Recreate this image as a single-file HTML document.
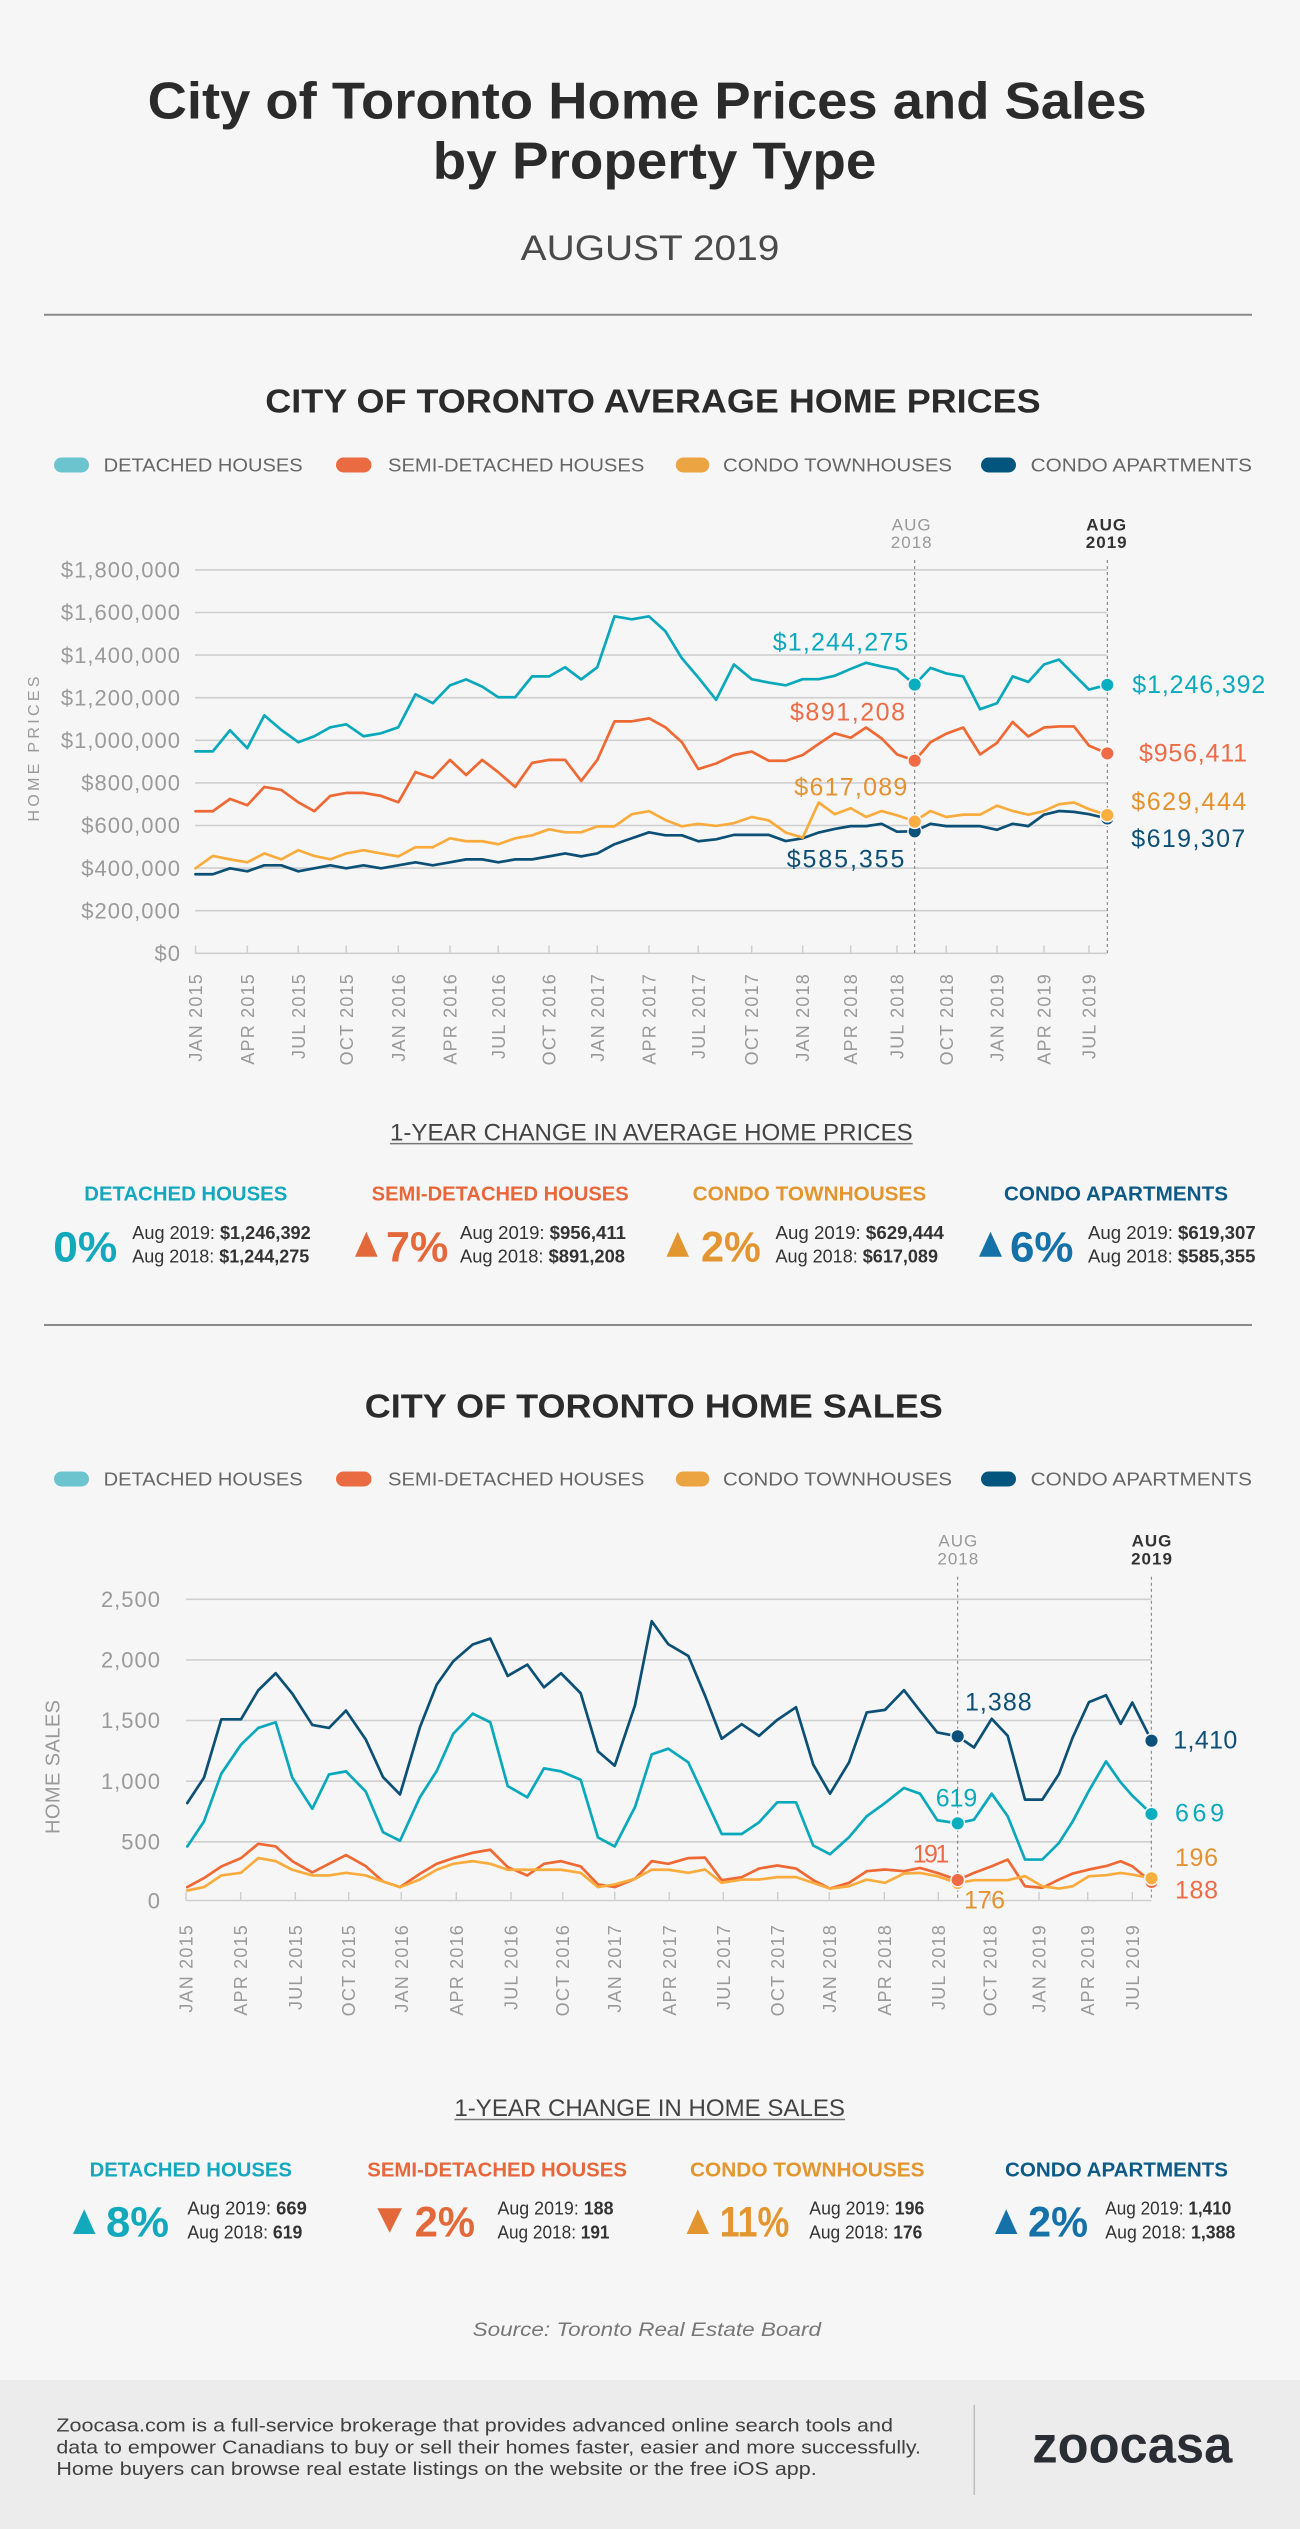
<!DOCTYPE html>
<html><head><meta charset="utf-8"><title>City of Toronto Home Prices and Sales by Property Type</title>
<style>
html,body{margin:0;padding:0;background:#f6f6f6;}
svg{display:block;font-family:"Liberation Sans",Arial,sans-serif;}
.yl{font-size:22px;fill:#9a9a9a;text-anchor:end;letter-spacing:1px;}
.xl{font-size:18px;fill:#999;text-anchor:end;letter-spacing:1.2px;}
.leg{font-size:18px;fill:#666;}
.cat{font-size:20px;font-weight:bold;}
.pct{font-size:43px;font-weight:bold;}
.det{font-size:18px;fill:#333;}
.val{font-size:25px;}
.ln{fill:none;stroke-width:2.7;stroke-linejoin:round;stroke-linecap:round;}
</style></head>
<body>
<svg width="1300" height="2529" viewBox="0 0 1300 2529" xmlns="http://www.w3.org/2000/svg">
<rect x="0" y="0" width="1300" height="2529" fill="#f6f6f6"/>

<!-- HEADER -->
<text x="147.6" y="118.3" font-size="52" font-weight="bold" fill="#2b2b2b" textLength="999" lengthAdjust="spacingAndGlyphs">City of Toronto Home Prices and Sales</text>
<text x="432.8" y="178.3" font-size="52" font-weight="bold" fill="#2b2b2b" textLength="443.6" lengthAdjust="spacingAndGlyphs">by Property Type</text>
<text x="520.7" y="260" font-size="35" fill="#4a4a4a" textLength="258.7" lengthAdjust="spacingAndGlyphs">AUGUST 2019</text>
<line x1="44" y1="314.7" x2="1252" y2="314.7" stroke="#8a8a8a" stroke-width="2"/>

<!-- CHART 1 TITLE -->
<text x="265.3" y="412.3" font-size="33" font-weight="bold" fill="#2b2b2b" textLength="775.3" lengthAdjust="spacingAndGlyphs">CITY OF TORONTO AVERAGE HOME PRICES</text>

<!-- LEGEND 1 -->
<g>
<rect x="54" y="457.5" width="35" height="15" rx="7.5" fill="#6cc4cf"/>
<text class="leg" x="103.6" y="471.7" textLength="199" lengthAdjust="spacingAndGlyphs">DETACHED HOUSES</text>
<rect x="336" y="457.5" width="35.5" height="15" rx="7.5" fill="#ea6a42"/>
<text class="leg" x="388" y="471.7" textLength="256.3" lengthAdjust="spacingAndGlyphs">SEMI-DETACHED HOUSES</text>
<rect x="675.8" y="457.5" width="33.5" height="15" rx="7.5" fill="#eca443"/>
<text class="leg" x="723" y="471.7" textLength="229" lengthAdjust="spacingAndGlyphs">CONDO TOWNHOUSES</text>
<rect x="981" y="457.5" width="35" height="15" rx="7.5" fill="#03557e"/>
<text class="leg" x="1030.7" y="471.7" textLength="221.3" lengthAdjust="spacingAndGlyphs">CONDO APARTMENTS</text>
</g>

<!-- CHART 1 GRID -->
<g stroke="#cfcfcf" stroke-width="1.6">
<line x1="195" y1="569.9" x2="1107.3" y2="569.9"/>
<line x1="195" y1="612.5" x2="1107.3" y2="612.5"/>
<line x1="195" y1="655.1" x2="1107.3" y2="655.1"/>
<line x1="195" y1="697.7" x2="1107.3" y2="697.7"/>
<line x1="195" y1="740.3" x2="1107.3" y2="740.3"/>
<line x1="195" y1="782.9" x2="1107.3" y2="782.9"/>
<line x1="195" y1="825.5" x2="1107.3" y2="825.5"/>
<line x1="195" y1="868.1" x2="1107.3" y2="868.1"/>
<line x1="195" y1="910.7" x2="1107.3" y2="910.7"/>
<line x1="195" y1="953.3" x2="1107.3" y2="953.3"/>
</g>
<g stroke="#cfcfcf" stroke-width="1.5">
<line x1="195.5" y1="945.5" x2="195.5" y2="953.3"/><line x1="247.3" y1="945.5" x2="247.3" y2="953.3"/><line x1="298.3" y1="945.5" x2="298.3" y2="953.3"/><line x1="346.3" y1="945.5" x2="346.3" y2="953.3"/><line x1="398.3" y1="945.5" x2="398.3" y2="953.3"/><line x1="450" y1="945.5" x2="450" y2="953.3"/><line x1="498.3" y1="945.5" x2="498.3" y2="953.3"/><line x1="549" y1="945.5" x2="549" y2="953.3"/><line x1="597.3" y1="945.5" x2="597.3" y2="953.3"/><line x1="649" y1="945.5" x2="649" y2="953.3"/><line x1="698.3" y1="945.5" x2="698.3" y2="953.3"/><line x1="751.7" y1="945.5" x2="751.7" y2="953.3"/><line x1="802.7" y1="945.5" x2="802.7" y2="953.3"/><line x1="850.7" y1="945.5" x2="850.7" y2="953.3"/><line x1="897" y1="945.5" x2="897" y2="953.3"/><line x1="946.3" y1="945.5" x2="946.3" y2="953.3"/><line x1="997" y1="945.5" x2="997" y2="953.3"/><line x1="1044" y1="945.5" x2="1044" y2="953.3"/><line x1="1089" y1="945.5" x2="1089" y2="953.3"/>
</g>
<!-- dashed markers -->
<g stroke="#777" stroke-width="1" stroke-dasharray="3,3">
<line x1="914.7" y1="560" x2="914.7" y2="953"/>
<line x1="1107.3" y1="560" x2="1107.3" y2="953"/>
</g>
<text x="911.7" y="530.3" font-size="17" fill="#999" text-anchor="middle" letter-spacing="1">AUG</text>
<text x="911.7" y="548.2" font-size="17" fill="#999" text-anchor="middle" letter-spacing="1">2018</text>
<text x="1106.7" y="530.3" font-size="17" font-weight="bold" fill="#333" text-anchor="middle" letter-spacing="1">AUG</text>
<text x="1106.7" y="548.2" font-size="17" font-weight="bold" fill="#333" text-anchor="middle" letter-spacing="1">2019</text>

<!-- Y labels chart 1 -->
<text class="yl" x="181" y="577.6">$1,800,000</text>
<text class="yl" x="181" y="620.2">$1,600,000</text>
<text class="yl" x="181" y="662.8">$1,400,000</text>
<text class="yl" x="181" y="705.4">$1,200,000</text>
<text class="yl" x="181" y="748">$1,000,000</text>
<text class="yl" x="181" y="790.6">$800,000</text>
<text class="yl" x="181" y="833.2">$600,000</text>
<text class="yl" x="181" y="875.8">$400,000</text>
<text class="yl" x="181" y="918.4">$200,000</text>
<text class="yl" x="181" y="961">$0</text>
<text transform="translate(39,749) rotate(-90)" font-size="16" fill="#999" text-anchor="middle" textLength="145" lengthAdjust="spacing">HOME PRICES</text>

<!-- X labels chart 1 -->
<g class="xl">
<text class="xl" transform="translate(202,973) rotate(-90)">JAN 2015</text>
<text class="xl" transform="translate(253.8,973) rotate(-90)">APR 2015</text>
<text class="xl" transform="translate(304.8,973) rotate(-90)">JUL 2015</text>
<text class="xl" transform="translate(352.8,973) rotate(-90)">OCT 2015</text>
<text class="xl" transform="translate(404.8,973) rotate(-90)">JAN 2016</text>
<text class="xl" transform="translate(456.5,973) rotate(-90)">APR 2016</text>
<text class="xl" transform="translate(504.8,973) rotate(-90)">JUL 2016</text>
<text class="xl" transform="translate(555.5,973) rotate(-90)">OCT 2016</text>
<text class="xl" transform="translate(603.8,973) rotate(-90)">JAN 2017</text>
<text class="xl" transform="translate(655.5,973) rotate(-90)">APR 2017</text>
<text class="xl" transform="translate(704.8,973) rotate(-90)">JUL 2017</text>
<text class="xl" transform="translate(758.2,973) rotate(-90)">OCT 2017</text>
<text class="xl" transform="translate(809.2,973) rotate(-90)">JAN 2018</text>
<text class="xl" transform="translate(857.2,973) rotate(-90)">APR 2018</text>
<text class="xl" transform="translate(903.5,973) rotate(-90)">JUL 2018</text>
<text class="xl" transform="translate(952.8,973) rotate(-90)">OCT 2018</text>
<text class="xl" transform="translate(1003.5,973) rotate(-90)">JAN 2019</text>
<text class="xl" transform="translate(1050.5,973) rotate(-90)">APR 2019</text>
<text class="xl" transform="translate(1095.5,973) rotate(-90)">JUL 2019</text>
</g>

<!-- CHART 1 LINES -->
<g transform="matrix(1 0 0 -0.213 0 953.3)">
<polyline class="ln" vector-effect="non-scaling-stroke" stroke="#0aa8bb" points="195.5,948 212.8,948 230,1047 247.3,963 264.3,1117 281.3,1049 298.3,991 314.3,1019 330.3,1061 346.3,1075 363.6,1019 381,1033 398.3,1061 415.5,1216 432.8,1174 450,1258 466.1,1286 482.2,1252 498.3,1202 515.2,1202 532.1,1300 549,1300 565.1,1343 581.2,1286 597.3,1343 614.5,1582 631.8,1568 649,1582 665.4,1512 681.9,1385 698.3,1295 716.1,1190 733.9,1356 751.7,1287 768.7,1271 785.7,1258 802.7,1287 818.7,1287 834.7,1303 850.7,1335 866.1,1364 881.6,1347 897,1332 914.7,1261 930.5,1340 946.3,1314 963.2,1300 980.1,1146 997,1174 1012.7,1300 1028.3,1274 1044,1356 1059,1379 1074,1308 1089,1238 1107.3,1260"/>
<polyline class="ln" vector-effect="non-scaling-stroke" stroke="#ee6934" points="195.5,667 212.8,667 230,725 247.3,695 264.3,781 281.3,767 298.3,709 314.3,667 330.3,739 346.3,753 363.6,753 381,739 398.3,709 415.5,851 432.8,823 450,908 466.1,837 482.2,908 498.3,850 515.2,781 532.1,894 549,908 565.1,908 581.2,809 597.3,908 614.5,1089 631.8,1089 649,1103 665.4,1061 681.9,991 698.3,865 716.1,891 733.9,931 751.7,947 768.7,904 785.7,904 802.7,931 818.7,983 834.7,1033 850.7,1012 866.1,1060 881.6,1009 897,934 914.7,904 930.5,991 946.3,1031 963.2,1060 980.1,934 997,988 1012.7,1086 1028.3,1018 1044,1060 1059,1065 1074,1065 1089,975 1107.3,938"/>
<polyline class="ln" vector-effect="non-scaling-stroke" stroke="#0c5075" points="195.5,371 212.8,371 230,399 247.3,385 264.3,413 281.3,413 298.3,385 314.3,399 330.3,413 346.3,399 363.6,413 381,399 398.3,413 415.5,427 432.8,413 450,427 466.1,441 482.2,441 498.3,427 515.2,441 532.1,441 549,455 565.1,469 581.2,455 597.3,469 614.5,512 631.8,540 649,568 665.4,554 681.9,554 698.3,526 716.1,535 733.9,556 751.7,556 768.7,556 785.7,527 802.7,540 818.7,567 834.7,584 850.7,597 866.1,597 881.6,608 897,571 914.7,573 930.5,608 946.3,597 963.2,597 980.1,597 997,580 1012.7,608 1028.3,597 1044,651 1059,668 1074,664 1089,653 1107.3,633"/>
<polyline class="ln" vector-effect="non-scaling-stroke" stroke="#f9ac3d" points="195.5,399 212.8,457 230,441 247.3,427 264.3,469 281.3,441 298.3,484 314.3,457 330.3,441 346.3,469 363.6,484 381,469 398.3,455 415.5,498 432.8,498 450,540 466.1,526 482.2,526 498.3,512 515.2,540 532.1,554 549,582 565.1,568 581.2,568 597.3,596 614.5,596 631.8,653 649,667 665.4,626 681.9,596 698.3,608 716.1,598 733.9,611 751.7,640 768.7,624 785.7,567 802.7,543 818.7,708 834.7,653 850.7,681 866.1,640 881.6,668 897,648 914.7,620 930.5,668 946.3,640 963.2,651 980.1,651 997,693 1012.7,668 1028.3,651 1044,668 1059,700 1074,708 1089,677 1107.3,649"/>
</g>
<!-- dots chart 1 -->
<g stroke="#f6f6f6" stroke-width="1.5">
<circle cx="914.7" cy="684.6" r="6.8" fill="#0aaebf"/>
<circle cx="914.7" cy="760.7" r="6.8" fill="#f06b45"/>
<circle cx="914.7" cy="831.3" r="6.8" fill="#0b5179"/>
<circle cx="914.7" cy="821.6" r="6.8" fill="#f9ae3f"/>
<circle cx="1107.3" cy="684.9" r="6.8" fill="#0aaebf"/>
<circle cx="1107.3" cy="753.4" r="6.8" fill="#f06b45"/>
<circle cx="1107.3" cy="818.5" r="6.8" fill="#0b5179"/>
<circle cx="1107.3" cy="815.1" r="6.8" fill="#f9ae3f"/>
</g>
<!-- value labels chart 1 -->
<text class="val" x="772.7" y="650.5" fill="#0aa9bd" textLength="135.6">$1,244,275</text>
<text class="val" x="790" y="720.4" fill="#ee6c45" textLength="115">$891,208</text>
<text class="val" x="794.3" y="795.5" fill="#e3922f" textLength="113">$617,089</text>
<text class="val" x="786.7" y="867.4" fill="#0d4f75" textLength="117.7">$585,355</text>
<text class="val" x="1132.3" y="693" fill="#0aa9bd" textLength="133">$1,246,392</text>
<text class="val" x="1139" y="761.7" fill="#ee6c45" textLength="108">$956,411</text>
<text class="val" x="1131.3" y="810" fill="#e3922f" textLength="115">$629,444</text>
<text class="val" x="1131.3" y="847" fill="#0d4f75" textLength="114">$619,307</text>

<!-- CHANGE SECTION 1 -->
<text x="390" y="1140.7" font-size="24" fill="#444" textLength="522.7" lengthAdjust="spacingAndGlyphs">1-YEAR CHANGE IN AVERAGE HOME PRICES</text>
<line x1="390" y1="1143.6" x2="912.7" y2="1143.6" stroke="#777" stroke-width="1.5"/>

<text class="cat" x="84.3" y="1200.5" fill="#13a8bd" textLength="203" lengthAdjust="spacingAndGlyphs">DETACHED HOUSES</text>
<text class="cat" x="371.7" y="1200.5" fill="#e8673a" textLength="257" lengthAdjust="spacingAndGlyphs">SEMI-DETACHED HOUSES</text>
<text class="cat" x="692.6" y="1200.5" fill="#e3952f" textLength="233.6" lengthAdjust="spacingAndGlyphs">CONDO TOWNHOUSES</text>
<text class="cat" x="1004" y="1200.5" fill="#0e5a86" textLength="224" lengthAdjust="spacingAndGlyphs">CONDO APARTMENTS</text>

<text class="pct" x="53.3" y="1261.7" fill="#12a9bd" textLength="64" lengthAdjust="spacingAndGlyphs">0%</text>
<text class="det" x="132.3" y="1239" textLength="178.4" lengthAdjust="spacingAndGlyphs">Aug 2019: <tspan font-weight="bold">$1,246,392</tspan></text>
<text class="det" x="132.3" y="1262.3" textLength="177" lengthAdjust="spacingAndGlyphs">Aug 2018: <tspan font-weight="bold">$1,244,275</tspan></text>

<polygon points="355,1256.7 377.7,1256.7 366.3,1231.7" fill="#e4693a"/>
<text class="pct" x="386" y="1261.7" fill="#e4693a" textLength="62.3" lengthAdjust="spacingAndGlyphs">7%</text>
<text class="det" x="460" y="1239" textLength="166" lengthAdjust="spacingAndGlyphs">Aug 2019: <tspan font-weight="bold">$956,411</tspan></text>
<text class="det" x="460" y="1262.3" textLength="165" lengthAdjust="spacingAndGlyphs">Aug 2018: <tspan font-weight="bold">$891,208</tspan></text>

<polygon points="666.5,1256.7 689,1256.7 677.7,1231.7" fill="#e3952f"/>
<text class="pct" x="701" y="1261.7" fill="#e3952f" textLength="59.8" lengthAdjust="spacingAndGlyphs">2%</text>
<text class="det" x="775.5" y="1239" textLength="168.4" lengthAdjust="spacingAndGlyphs">Aug 2019: <tspan font-weight="bold">$629,444</tspan></text>
<text class="det" x="775.5" y="1262.3" textLength="162.5" lengthAdjust="spacingAndGlyphs">Aug 2018: <tspan font-weight="bold">$617,089</tspan></text>

<polygon points="979,1256.7 1002,1256.7 990.5,1231.7" fill="#1472a9"/>
<text class="pct" x="1010" y="1261.7" fill="#1472a9" textLength="63.5" lengthAdjust="spacingAndGlyphs">6%</text>
<text class="det" x="1088" y="1239" textLength="167.7" lengthAdjust="spacingAndGlyphs">Aug 2019: <tspan font-weight="bold">$619,307</tspan></text>
<text class="det" x="1088" y="1262.3" textLength="167.5" lengthAdjust="spacingAndGlyphs">Aug 2018: <tspan font-weight="bold">$585,355</tspan></text>

<line x1="44" y1="1325" x2="1252" y2="1325" stroke="#8a8a8a" stroke-width="2"/>

<!-- CHART 2 TITLE -->
<text x="364.8" y="1417.3" font-size="33" font-weight="bold" fill="#2b2b2b" textLength="578" lengthAdjust="spacingAndGlyphs">CITY OF TORONTO HOME SALES</text>

<!-- LEGEND 2 -->
<g>
<rect x="54" y="1471.5" width="35" height="15" rx="7.5" fill="#6cc4cf"/>
<text class="leg" x="103.6" y="1485.7" textLength="199" lengthAdjust="spacingAndGlyphs">DETACHED HOUSES</text>
<rect x="336" y="1471.5" width="35.5" height="15" rx="7.5" fill="#ea6a42"/>
<text class="leg" x="388" y="1485.7" textLength="256.3" lengthAdjust="spacingAndGlyphs">SEMI-DETACHED HOUSES</text>
<rect x="675.8" y="1471.5" width="33.5" height="15" rx="7.5" fill="#eca443"/>
<text class="leg" x="723" y="1485.7" textLength="229" lengthAdjust="spacingAndGlyphs">CONDO TOWNHOUSES</text>
<rect x="981" y="1471.5" width="35" height="15" rx="7.5" fill="#03557e"/>
<text class="leg" x="1030.7" y="1485.7" textLength="221.3" lengthAdjust="spacingAndGlyphs">CONDO APARTMENTS</text>
</g>

<!-- CHART 2 GRID -->
<g stroke="#cfcfcf" stroke-width="1.6">
<line x1="186" y1="1599.3" x2="1151.3" y2="1599.3"/>
<line x1="186" y1="1659.9" x2="1151.3" y2="1659.9"/>
<line x1="186" y1="1720.5" x2="1151.3" y2="1720.5"/>
<line x1="186" y1="1781.2" x2="1151.3" y2="1781.2"/>
<line x1="186" y1="1841.8" x2="1151.3" y2="1841.8"/>
<line x1="186" y1="1900.5" x2="1151.3" y2="1900.5"/>
</g>
<g stroke="#cfcfcf" stroke-width="1.5">
<line x1="186" y1="1892" x2="186" y2="1900.5"/><line x1="240.7" y1="1892" x2="240.7" y2="1900.5"/><line x1="295.3" y1="1892" x2="295.3" y2="1900.5"/><line x1="348.7" y1="1892" x2="348.7" y2="1900.5"/><line x1="401.3" y1="1892" x2="401.3" y2="1900.5"/><line x1="456.3" y1="1892" x2="456.3" y2="1900.5"/><line x1="511" y1="1892" x2="511" y2="1900.5"/><line x1="562.7" y1="1892" x2="562.7" y2="1900.5"/><line x1="614.7" y1="1892" x2="614.7" y2="1900.5"/><line x1="669.3" y1="1892" x2="669.3" y2="1900.5"/><line x1="723.3" y1="1892" x2="723.3" y2="1900.5"/><line x1="777.7" y1="1892" x2="777.7" y2="1900.5"/><line x1="829.3" y1="1892" x2="829.3" y2="1900.5"/><line x1="884.3" y1="1892" x2="884.3" y2="1900.5"/><line x1="938.3" y1="1892" x2="938.3" y2="1900.5"/><line x1="990" y1="1892" x2="990" y2="1900.5"/><line x1="1039" y1="1892" x2="1039" y2="1900.5"/><line x1="1087.7" y1="1892" x2="1087.7" y2="1900.5"/><line x1="1132.3" y1="1892" x2="1132.3" y2="1900.5"/>
</g>
<g stroke="#777" stroke-width="1" stroke-dasharray="3,3">
<line x1="957.7" y1="1576.7" x2="957.7" y2="1900"/>
<line x1="1151.3" y1="1576.7" x2="1151.3" y2="1900"/>
</g>
<text x="958.3" y="1546.7" font-size="17" fill="#999" text-anchor="middle" letter-spacing="1">AUG</text>
<text x="958.3" y="1564.3" font-size="17" fill="#999" text-anchor="middle" letter-spacing="1">2018</text>
<text x="1152" y="1546.7" font-size="17" font-weight="bold" fill="#333" text-anchor="middle" letter-spacing="1">AUG</text>
<text x="1152" y="1564.3" font-size="17" font-weight="bold" fill="#333" text-anchor="middle" letter-spacing="1">2019</text>

<!-- Y labels chart 2 -->
<text class="yl" x="161" y="1607">2,500</text>
<text class="yl" x="161" y="1667.6">2,000</text>
<text class="yl" x="161" y="1728.2">1,500</text>
<text class="yl" x="161" y="1788.9">1,000</text>
<text class="yl" x="161" y="1849.5">500</text>
<text class="yl" x="161" y="1908.5">0</text>
<text transform="translate(59.6,1767) rotate(-90)" font-size="20" fill="#999" text-anchor="middle" textLength="134" lengthAdjust="spacing">HOME SALES</text>

<!-- X labels chart 2 -->
<g>
<text class="xl" transform="translate(192.5,1924) rotate(-90)">JAN 2015</text>
<text class="xl" transform="translate(247.2,1924) rotate(-90)">APR 2015</text>
<text class="xl" transform="translate(301.8,1924) rotate(-90)">JUL 2015</text>
<text class="xl" transform="translate(355.2,1924) rotate(-90)">OCT 2015</text>
<text class="xl" transform="translate(407.8,1924) rotate(-90)">JAN 2016</text>
<text class="xl" transform="translate(462.8,1924) rotate(-90)">APR 2016</text>
<text class="xl" transform="translate(517.5,1924) rotate(-90)">JUL 2016</text>
<text class="xl" transform="translate(569.2,1924) rotate(-90)">OCT 2016</text>
<text class="xl" transform="translate(621.2,1924) rotate(-90)">JAN 2017</text>
<text class="xl" transform="translate(675.8,1924) rotate(-90)">APR 2017</text>
<text class="xl" transform="translate(729.8,1924) rotate(-90)">JUL 2017</text>
<text class="xl" transform="translate(784.2,1924) rotate(-90)">OCT 2017</text>
<text class="xl" transform="translate(835.8,1924) rotate(-90)">JAN 2018</text>
<text class="xl" transform="translate(890.8,1924) rotate(-90)">APR 2018</text>
<text class="xl" transform="translate(944.8,1924) rotate(-90)">JUL 2018</text>
<text class="xl" transform="translate(996.5,1924) rotate(-90)">OCT 2018</text>
<text class="xl" transform="translate(1045.5,1924) rotate(-90)">JAN 2019</text>
<text class="xl" transform="translate(1094.2,1924) rotate(-90)">APR 2019</text>
<text class="xl" transform="translate(1138.8,1924) rotate(-90)">JUL 2019</text>
</g>

<!-- CHART 2 LINES -->
<g transform="matrix(1 0 0 -0.1213 0 1902.5)">
<polyline class="ln" vector-effect="non-scaling-stroke" stroke="#0aa8bb" points="187.3,462 204,668 221.3,1062 241,1301 258.3,1439 275.7,1486 292.3,1029 312.3,773 329,1056 346,1081 365.7,916 383,580 400,509 420,869 436.7,1084 453.3,1392 472.7,1557 490.3,1486 507.7,960 527.3,867 544,1106 561,1081 580.7,1012 598,536 614.7,462 635,787 651.7,1221 668.3,1268 688.3,1155 705,860 721.7,565 741.7,565 759,661 777.3,826 796,826 813.3,469 830,398 849,538 866.7,711 885,820 904,944 920,897 937.3,678 957.7,653 974,683 991.7,897 1007.7,711 1025,354 1042.3,354 1059,491 1072.7,669 1089,922 1106,1163 1120.7,990 1132.3,881 1151.5,730"/>
<polyline class="ln" vector-effect="non-scaling-stroke" stroke="#0c5075" points="187.3,820 204,1029 221.3,1510 241,1510 258.3,1750 275.7,1890 292.3,1722 312.3,1464 329,1439 346,1582 365.7,1345 383,1034 400,891 420,1447 436.7,1796 453.3,1989 472.7,2127 490.3,2176 507.7,1868 527.3,1961 544,1774 561,1890 580.7,1725 598,1246 614.7,1128 635,1626 651.7,2319 668.3,2129 688.3,2033 705,1706 721.7,1350 741.7,1470 759,1374 777.3,1506 796,1610 813.3,1136 830,897 849,1155 866.7,1567 885,1588 904,1750 920,1580 937.3,1402 957.7,1370 974,1278 991.7,1514 1007.7,1374 1025,848 1042.3,848 1059,1059 1072.7,1361 1089,1652 1106,1709 1120.7,1473 1132.3,1649 1151.5,1334"/>
<polyline class="ln" vector-effect="non-scaling-stroke" stroke="#ee6934" points="187.3,127 204,201 221.3,297 241,366 258.3,484 275.7,462 292.3,341 312.3,248 329,319 346,391 365.7,300 383,173 400,127 420,237 436.7,319 453.3,366 472.7,410 490.3,435 507.7,292 527.3,223 544,319 561,341 580.7,297 598,149 614.7,127 635,195 651.7,341 668.3,319 688.3,366 705,370 721.7,184 741.7,209 759,280 777.3,305 796,280 813.3,184 830,115 849,162 866.7,258 885,272 904,258 920,285 937.3,244 957.7,185 974,244 991.7,299 1007.7,354 1025,134 1042.3,121 1059,189 1072.7,239 1089,272 1106,300 1120.7,340 1132.3,299 1151.5,169"/>
<polyline class="ln" vector-effect="non-scaling-stroke" stroke="#f9ac3d" points="187.3,99 204,127 221.3,223 241,245 258.3,366 275.7,341 292.3,270 312.3,223 329,223 346,245 365.7,223 383,173 400,127 420,190 436.7,270 453.3,319 472.7,341 490.3,319 507.7,270 527.3,270 544,270 561,270 580.7,245 598,127 614.7,149 635,195 651.7,270 668.3,270 688.3,245 705,272 721.7,162 741.7,189 759,189 777.3,209 796,209 813.3,162 830,115 849,134 866.7,189 885,162 904,239 920,244 937.3,217 957.7,160 974,184 991.7,184 1007.7,184 1025,217 1042.3,134 1059,115 1072.7,134 1089,217 1106,225 1120.7,244 1132.3,230 1151.5,200"/>
</g>
<!-- dots chart 2 -->
<g stroke="#f6f6f6" stroke-width="1.5">
<circle cx="957.7" cy="1736.3" r="6.8" fill="#0b5179"/>
<circle cx="957.7" cy="1823.3" r="6.8" fill="#0aaebf"/>
<circle cx="957.7" cy="1883" r="6.8" fill="#f9ae3f"/>
<circle cx="957.7" cy="1880" r="6.8" fill="#f06b45"/>
<circle cx="1151.5" cy="1740.7" r="6.8" fill="#0b5179"/>
<circle cx="1151.5" cy="1814" r="6.8" fill="#0aaebf"/>
<circle cx="1151.5" cy="1882" r="6.8" fill="#f06b45"/>
<circle cx="1151.5" cy="1878.3" r="6.8" fill="#f9ae3f"/>
</g>
<text class="val" x="965" y="1710.7" fill="#0d4f75" textLength="66.7">1,388</text>
<text class="val" x="935.7" y="1806.7" fill="#0aa9bd" textLength="41.6">619</text>
<text class="val" x="912.7" y="1862.7" fill="#ee6c45" textLength="36.6">191</text>
<text class="val" x="964" y="1908.3" fill="#e3922f" textLength="41">176</text>
<text class="val" x="1173.3" y="1748.3" fill="#0d4f75" textLength="64">1,410</text>
<text class="val" x="1175" y="1821.7" fill="#0aa9bd" textLength="49">669</text>
<text class="val" x="1175" y="1866" fill="#e3922f" textLength="43">196</text>
<text class="val" x="1175" y="1898.3" fill="#ee6c45" textLength="43">188</text>

<!-- CHANGE SECTION 2 -->
<text x="454.4" y="2116" font-size="24" fill="#444" textLength="390.6" lengthAdjust="spacingAndGlyphs">1-YEAR CHANGE IN HOME SALES</text>
<line x1="454.4" y1="2119.5" x2="845" y2="2119.5" stroke="#777" stroke-width="1.5"/>

<text class="cat" x="89.6" y="2176.7" fill="#13a8bd" textLength="202.3" lengthAdjust="spacingAndGlyphs">DETACHED HOUSES</text>
<text class="cat" x="367.3" y="2176.7" fill="#e8673a" textLength="259.6" lengthAdjust="spacingAndGlyphs">SEMI-DETACHED HOUSES</text>
<text class="cat" x="690" y="2176.7" fill="#e3952f" textLength="234.5" lengthAdjust="spacingAndGlyphs">CONDO TOWNHOUSES</text>
<text class="cat" x="1005" y="2176.7" fill="#0e5a86" textLength="223" lengthAdjust="spacingAndGlyphs">CONDO APARTMENTS</text>

<polygon points="73,2234 95.4,2234 84.2,2209.3" fill="#12a9bd"/>
<text class="pct" x="106" y="2236.7" fill="#12a9bd" textLength="63" lengthAdjust="spacingAndGlyphs">8%</text>
<text class="det" x="187.4" y="2214.3" textLength="119.4" lengthAdjust="spacingAndGlyphs">Aug 2019: <tspan font-weight="bold">669</tspan></text>
<text class="det" x="187.4" y="2238.3" textLength="115" lengthAdjust="spacingAndGlyphs">Aug 2018: <tspan font-weight="bold">619</tspan></text>

<polygon points="377.3,2208.3 402,2208.3 389.7,2232.7" fill="#e4693a"/>
<text class="pct" x="414.6" y="2236.7" fill="#e4693a" textLength="60.4" lengthAdjust="spacingAndGlyphs">2%</text>
<text class="det" x="497.5" y="2214.3" textLength="116" lengthAdjust="spacingAndGlyphs">Aug 2019: <tspan font-weight="bold">188</tspan></text>
<text class="det" x="497.5" y="2238.3" textLength="112" lengthAdjust="spacingAndGlyphs">Aug 2018: <tspan font-weight="bold">191</tspan></text>

<polygon points="686.6,2234 709,2234 697.8,2209.3" fill="#e3952f"/>
<text class="pct" x="719.7" y="2236.7" fill="#e3952f" textLength="69.7" lengthAdjust="spacingAndGlyphs">11%</text>
<text class="det" x="809.3" y="2214.3" textLength="115" lengthAdjust="spacingAndGlyphs">Aug 2019: <tspan font-weight="bold">196</tspan></text>
<text class="det" x="809.3" y="2238.3" textLength="113" lengthAdjust="spacingAndGlyphs">Aug 2018: <tspan font-weight="bold">176</tspan></text>

<polygon points="995,2234 1017.4,2234 1006.2,2209.3" fill="#1472a9"/>
<text class="pct" x="1028" y="2236.7" fill="#1472a9" textLength="60" lengthAdjust="spacingAndGlyphs">2%</text>
<text class="det" x="1105.3" y="2214.3" textLength="126" lengthAdjust="spacingAndGlyphs">Aug 2019: <tspan font-weight="bold">1,410</tspan></text>
<text class="det" x="1105.3" y="2238.3" textLength="130" lengthAdjust="spacingAndGlyphs">Aug 2018: <tspan font-weight="bold">1,388</tspan></text>

<!-- SOURCE -->
<text x="472.6" y="2336" font-size="19" font-style="italic" fill="#777" textLength="348.4" lengthAdjust="spacingAndGlyphs">Source: Toronto Real Estate Board</text>

<!-- FOOTER -->
<rect x="0" y="2380" width="1300" height="149" fill="#ececec"/>
<text x="56.4" y="2431.7" font-size="18" fill="#404040" textLength="836.6" lengthAdjust="spacingAndGlyphs">Zoocasa.com is a full-service brokerage that provides advanced online search tools and</text>
<text x="56.4" y="2453.3" font-size="18" fill="#404040" textLength="864.6" lengthAdjust="spacingAndGlyphs">data to empower Canadians to buy or sell their homes faster, easier and more successfully.</text>
<text x="56.4" y="2475" font-size="18" fill="#404040" textLength="760.3" lengthAdjust="spacingAndGlyphs">Home buyers can browse real estate listings on the website or the free iOS app.</text>
<line x1="974.3" y1="2405" x2="974.3" y2="2495" stroke="#bdbdbd" stroke-width="1.5"/>
<text x="1032.3" y="2462.7" font-size="52" font-weight="bold" fill="#2a2d34" textLength="200" lengthAdjust="spacingAndGlyphs">zoocasa</text>
</svg>
</body></html>
